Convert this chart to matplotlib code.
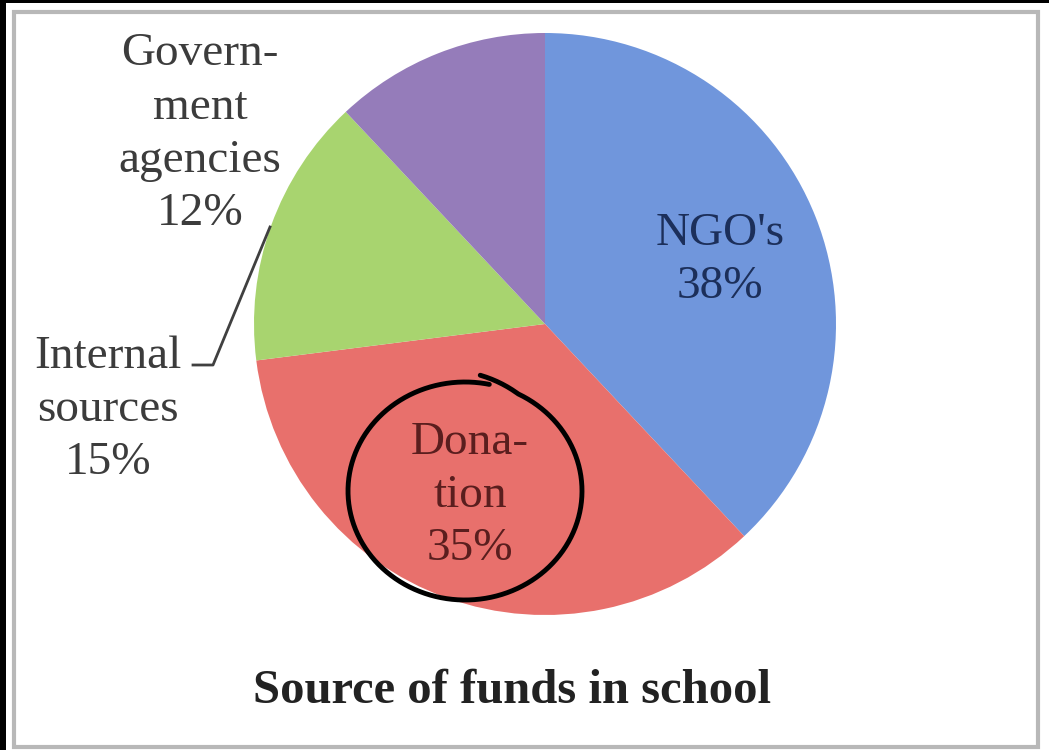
import numpy as np
import matplotlib
matplotlib.use("Agg")
import matplotlib.pyplot as plt
from matplotlib.patches import Rectangle

plt.rcParams['font.family'] = ['Liberation Serif', 'DejaVu Serif']

# data
sources = ["NGO's", "Donation", "Internal sources", "Government agencies"]
shares = [38, 35, 15, 12]
colors = ['#7096dc', '#e8706c', '#a8d46f', '#957cba']

W, H = 1049, 750
fig = plt.figure(figsize=(W / 100, H / 100), dpi=100)
ax = fig.add_axes([0, 0, 1, 1])

ax.pie(shares, colors=colors, startangle=90, counterclock=False,
       center=(545, 426), radius=291, frame=True,
       wedgeprops=dict(linewidth=0))
ax.set_xlim(0, W)
ax.set_ylim(0, H)
ax.set_aspect('equal')
ax.axis('off')

# frame like the screenshot
ax.add_patch(Rectangle((14, 3), 1024, 735, fill=False, edgecolor='#b8b8b8', lw=3))
ax.add_patch(Rectangle((0, 0), 6, H, color='black', lw=0))
ax.add_patch(Rectangle((0, H - 3), W, 3, color='black', lw=0))

lab = dict(ha='center', va='center', fontsize=34, linespacing=1.33)
ax.text(200, 616, "Govern-\nment\nagencies\n12%", color='#3c3c3c', **lab)
ax.text(720, 490, "NGO's\n38%", color='#1c2f5a', **lab)
ax.text(108, 340, "Internal\nsources\n15%", color='#3c3c3c', **lab)
ax.text(470, 254, "Dona-\ntion\n35%", color='#5a1e1e', **lab)

# leader line
ax.plot([270, 213, 193], [523, 385, 385], color='#404040', lw=2)

ax.text(512, 59, "Source of funds in school", ha='center', va='center',
        fontsize=35, fontweight='bold', color='#222222')

# hand drawn circle round the Donation label
t = np.linspace(np.radians(83), np.radians(83 - 365), 400)
grow = 1 + 0.07 * np.clip((t - np.radians(63)) / np.radians(20), 0, 1)
ax.plot(465 + 117 * grow * np.cos(t), 259 + 109 * grow * np.sin(t),
        color='black', lw=3.5, solid_capstyle='round')

fig.savefig('out.png', dpi=100, facecolor='white')
